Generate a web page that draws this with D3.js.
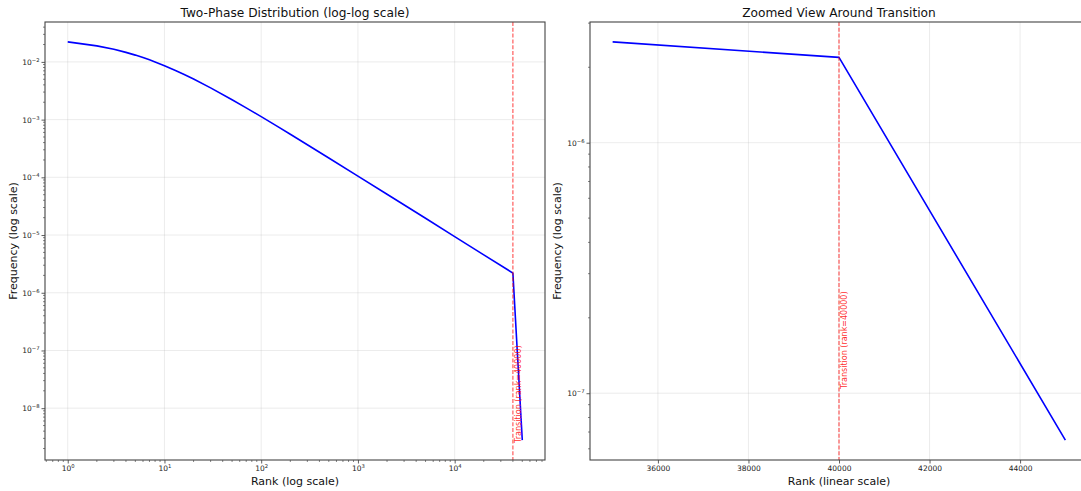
<!DOCTYPE html>
<html>
<head>
<meta charset="utf-8">
<script src="https://cdn.jsdelivr.net/npm/d3@7"></script>
<style>
  body { margin: 0; background: #fff; }
  svg { display: block; font-family: "DejaVu Sans", sans-serif; }
  .tick text { fill: #222; }
</style>
</head>
<body>
<div id="chart"></div>
<script>
// Values
const ranks = [1, 2, 3, 4, 5, 6, 7, 8, 10, 13, 16, 20, 30, 50, 70, 100, 150, 200, 300, 500,
    1000, 2000, 5000, 10000, 20000, 35000, 40000, 45000, 50000];
const freqs = [0.0222, 0.01895, 0.01651, 0.01462, 0.01311, 0.01188, 0.01085, 0.00998, 0.0086, 0.00712,
    0.00606, 0.00505, 0.003553, 0.002214, 0.0016, 0.001124, 7.47e-4, 5.57e-4, 3.67e-4, 2.16e-4,
    1.05e-4, 5.09e-5, 1.95e-5, 9.41e-6, 4.54e-6, 2.525e-6, 2.19e-6, 6.5e-8, 2.8e-9];
const zoomRanks = [35000, 40000, 45000];
const zoomFreqs = [2.525e-6, 2.19e-6, 6.5e-8];
const transitionRank = 40000;
const transitionLabel = "Transition (rank=40000)";
const leftLabelY = 2.5e-9;
const rightLabelY = 1.04e-7;

const leftXTicks = [1, 10, 100, 1000, 10000];
const leftYTicks = [1e-8, 1e-7, 1e-6, 1e-5, 1e-4, 1e-3, 1e-2];
const rightXTicks = [36000, 38000, 40000, 42000, 44000];
const rightYTicks = [1e-7, 1e-6];

const titles = ["Two-Phase Distribution (log-log scale)", "Zoomed View Around Transition"];
const xLabels = ["Rank (log scale)", "Rank (linear scale)"];
const yLabel = "Frequency (log scale)";

// Layout
const settings = {
    width: 1081,
    height: 491,
    top: 22,
    bottom: 460,
    tickFont: 7.5,
};

const svg = d3.select("#chart").append("svg")
    .attr("width", settings.width)
    .attr("height", settings.height);

// matplotlib-like 5% margins
function logPad(values) {
    const [lo, hi] = d3.extent(values).map(Math.log10);
    const m = (hi - lo) * 0.05;
    return [Math.pow(10, lo - m), Math.pow(10, hi + m)];
}
function linPad(values) {
    const [lo, hi] = d3.extent(values);
    const m = (hi - lo) * 0.05;
    return [lo - m, hi + m];
}

// minor tick positions for a log scale domain
function logMinor(domain) {
    const out = [];
    const lo = Math.floor(Math.log10(domain[0]));
    const hi = Math.ceil(Math.log10(domain[1]));
    for (let e = lo; e <= hi; e++) {
        for (let k = 2; k <= 9; k++) {
            const v = k * Math.pow(10, e);
            if (v >= domain[0] && v <= domain[1]) out.push(v);
        }
    }
    return out;
}

// "10" with superscript exponent
function powerLabel(sel) {
    sel.each(function(d) {
        const t = d3.select(this).text(null);
        const e = Math.round(Math.log10(d));
        t.append("tspan").text("10");
        t.append("tspan")
            .attr("dy", "-0.55em")
            .attr("font-size", "0.7em")
            .text(e < 0 ? "\u2212" + (-e) : e);
    });
}

function drawPanel(cfg) {
    const { x, y, x0, x1, xTicks, yTicks, xMinor, yMinor, xPower } = cfg;
    const g = svg.append("g");
    const { top, bottom, tickFont } = settings;

    const clipId = "clip" + cfg.id;
    svg.append("clipPath").attr("id", clipId)
        .append("rect").attr("x", x0).attr("y", top).attr("width", x1 - x0).attr("height", bottom - top);

    // grid
    const grid = g.append("g").attr("stroke", "#b0b0b0").attr("stroke-opacity", 0.3).attr("stroke-width", 0.8)
        .attr("clip-path", `url(#${clipId})`);
    grid.selectAll(".gx").data(xTicks).join("line")
        .attr("x1", d => x(d)).attr("x2", d => x(d)).attr("y1", top).attr("y2", bottom);
    grid.selectAll(".gy").data(yTicks).join("line")
        .attr("y1", d => y(d)).attr("y2", d => y(d)).attr("x1", x0).attr("x2", x1);

    // data line
    g.append("path")
        .datum(cfg.data)
        .attr("clip-path", `url(#${clipId})`)
        .attr("fill", "none")
        .attr("stroke", "#0000ff")
        .attr("stroke-width", 1.6)
        .attr("stroke-linejoin", "round")
        .attr("d", d3.line().x(d => x(d[0])).y(d => y(d[1])));

    // transition marker
    g.append("line")
        .attr("x1", x(transitionRank)).attr("x2", x(transitionRank))
        .attr("y1", top).attr("y2", bottom)
        .attr("stroke", "#ff0000").attr("stroke-opacity", 0.7)
        .attr("stroke-width", 1.1).attr("stroke-dasharray", "4,1.8");

    const lx = x(transitionRank) + 2;
    const ly = y(cfg.labelY);
    g.append("text")
        .attr("transform", `translate(${lx + 6},${ly}) rotate(-90)`)
        .attr("fill", "#ff0000").attr("fill-opacity", 0.85)
        .attr("font-size", 8)
        .text(transitionLabel);

    // axes
    const xAxis = g.append("g")
        .attr("transform", `translate(0,${bottom})`)
        .call(d3.axisBottom(x).tickValues(xTicks).tickSize(3.5).tickPadding(2)
            .tickFormat(xPower ? d => d : d3.format("d")));
    if (xPower) xAxis.selectAll(".tick text").call(powerLabel);
    xAxis.append("g").selectAll("line").data(xMinor).join("line")
        .attr("x1", d => x(d)).attr("x2", d => x(d)).attr("y1", 0).attr("y2", 2)
        .attr("stroke", "#333").attr("stroke-width", 0.6);

    const yAxis = g.append("g")
        .attr("transform", `translate(${x0},0)`)
        .call(d3.axisLeft(y).tickValues(yTicks).tickSize(3.5).tickPadding(2).tickFormat(d => d));
    yAxis.selectAll(".tick text").call(powerLabel);
    yAxis.append("g").selectAll("line").data(yMinor).join("line")
        .attr("y1", d => y(d)).attr("y2", d => y(d)).attr("x1", 0).attr("x2", -2)
        .attr("stroke", "#333").attr("stroke-width", 0.6);

    [xAxis, yAxis].forEach(a => {
        a.select(".domain").remove();
        a.selectAll(".tick line").attr("stroke", "#333").attr("stroke-width", 0.8);
        a.selectAll(".tick text").attr("font-size", tickFont).attr("font-family", "DejaVu Sans");
    });

    // spines
    g.append("rect")
        .attr("x", x0).attr("y", top).attr("width", x1 - x0).attr("height", bottom - top)
        .attr("fill", "none").attr("stroke", "#444").attr("stroke-width", 1.1);

    // titles and labels
    const cx = (x0 + x1) / 2;
    g.append("text").attr("x", cx).attr("y", 17).attr("text-anchor", "middle")
        .attr("font-size", 12.2).attr("fill", "#111").text(cfg.title);
    g.append("text").attr("x", cx).attr("y", 485).attr("text-anchor", "middle")
        .attr("font-size", 11).attr("fill", "#111").text(cfg.xLabel);
    g.append("text")
        .attr("transform", `translate(${cfg.yLabelX},${(top + bottom) / 2}) rotate(-90)`)
        .attr("text-anchor", "middle").attr("font-size", 11).attr("fill", "#111").text(yLabel);
}

// Left panel: full log-log distribution
const leftX = d3.scaleLog().domain(logPad(ranks)).range([45, 545]);
const leftY = d3.scaleLog().domain(logPad(freqs)).range([settings.bottom, settings.top]);
drawPanel({
    id: 0,
    x: leftX, y: leftY, x0: 45, x1: 545,
    data: ranks.map((r, i) => [r, freqs[i]]),
    xTicks: leftXTicks, yTicks: leftYTicks,
    xMinor: logMinor(leftX.domain()), yMinor: logMinor(leftY.domain()),
    xPower: true,
    labelY: leftLabelY,
    title: titles[0], xLabel: xLabels[0], yLabelX: 17,
});

// Right panel: zoom around the transition
const rightX = d3.scaleLinear().domain(linPad(zoomRanks)).range([590, 1088]);
const rightY = d3.scaleLog().domain(logPad(zoomFreqs)).range([settings.bottom, settings.top]);
drawPanel({
    id: 1,
    x: rightX, y: rightY, x0: 590, x1: 1088,
    data: zoomRanks.map((r, i) => [r, zoomFreqs[i]]),
    xTicks: rightXTicks, yTicks: rightYTicks,
    xMinor: [], yMinor: logMinor(rightY.domain()),
    xPower: false,
    labelY: rightLabelY,
    title: titles[1], xLabel: xLabels[1], yLabelX: 561,
});
</script>
</body>
</html>
